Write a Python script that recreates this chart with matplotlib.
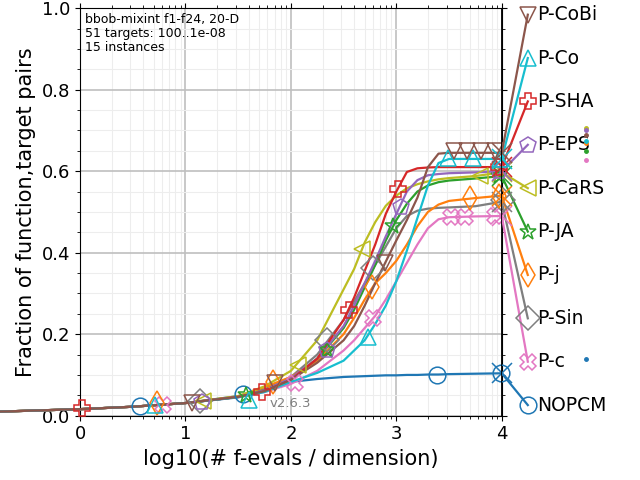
import matplotlib
matplotlib.use("Agg")
import matplotlib.pyplot as plt
import numpy as np
from matplotlib.ticker import FixedLocator, MultipleLocator

# ---------------------------------------------------------------------------
# Data
# ---------------------------------------------------------------------------

# legend order, top to bottom
ALGS = ["P-CoBi", "P-Co", "P-SHA", "P-EPS", "P-CaRS", "P-JA", "P-j", "P-Sin", "P-c", "NOPCM"]
COLORS = ["#8c564b", "#17becf", "#d62728", "#9467bd", "#bcbd22",
          "#2ca02c", "#ff7f0e", "#7f7f7f", "#e377c2", "#1f77b4"]
MARKERS = ["v", "^", "P", "p", "<", "*", "d", "D", "X", "o"]

# log10(# f-evals / dimension)
X_GRID = [-0.76, 0.0, 0.5, 1.0, 1.5, 1.75, 2.0, 2.25, 2.5, 2.6, 2.7,
          2.8, 2.9, 3.0, 3.1, 3.2, 3.3, 3.4, 3.5, 3.75, 4.0]

Y_COBI = [0.010, 0.016, 0.022, 0.031, 0.046, 0.060, 0.088, 0.130, 0.185, 0.220, 0.270,
          0.325, 0.378, 0.430, 0.480, 0.535, 0.610, 0.643, 0.645, 0.645, 0.645]
Y_CO = [0.010, 0.016, 0.022, 0.031, 0.045, 0.058, 0.083, 0.105, 0.135, 0.160, 0.185,
        0.225, 0.270, 0.330, 0.405, 0.485, 0.565, 0.620, 0.630, 0.630, 0.630]
Y_SHA = [0.010, 0.016, 0.022, 0.031, 0.046, 0.060, 0.088, 0.140, 0.235, 0.290, 0.355,
         0.420, 0.495, 0.550, 0.598, 0.607, 0.609, 0.610, 0.610, 0.610, 0.610]
Y_EPS = [0.010, 0.016, 0.022, 0.031, 0.046, 0.062, 0.092, 0.140, 0.220, 0.270, 0.325,
         0.380, 0.440, 0.495, 0.550, 0.578, 0.590, 0.593, 0.595, 0.597, 0.600]
Y_CARS = [0.010, 0.016, 0.022, 0.031, 0.048, 0.072, 0.110, 0.185, 0.310, 0.360, 0.425,
          0.475, 0.515, 0.540, 0.558, 0.568, 0.575, 0.580, 0.583, 0.588, 0.597]
Y_JA = [0.010, 0.016, 0.022, 0.031, 0.046, 0.062, 0.090, 0.140, 0.215, 0.260, 0.315,
        0.370, 0.430, 0.480, 0.520, 0.550, 0.565, 0.573, 0.577, 0.582, 0.588]
Y_J = [0.010, 0.016, 0.022, 0.031, 0.047, 0.070, 0.095, 0.135, 0.200, 0.240, 0.285,
       0.325, 0.350, 0.380, 0.420, 0.465, 0.500, 0.518, 0.527, 0.534, 0.540]
Y_SIN = [0.010, 0.016, 0.022, 0.031, 0.046, 0.064, 0.095, 0.150, 0.235, 0.280, 0.325,
         0.370, 0.415, 0.460, 0.490, 0.503, 0.508, 0.510, 0.511, 0.514, 0.525]
Y_C = [0.010, 0.016, 0.022, 0.031, 0.045, 0.058, 0.078, 0.110, 0.160, 0.185, 0.215,
       0.245, 0.285, 0.330, 0.375, 0.420, 0.460, 0.482, 0.487, 0.489, 0.490]
Y_NOPCM = [0.010, 0.016, 0.022, 0.031, 0.048, 0.065, 0.083, 0.090, 0.095, 0.096, 0.097,
           0.098, 0.099, 0.099, 0.100, 0.100, 0.101, 0.101, 0.102, 0.103, 0.104]

# marker positions along each curve
MK_COBI = [(1.06, 0.032), (1.85, 0.079), (2.89, 0.374), (3.55, 0.650),
           (3.67, 0.650), (3.80, 0.650), (3.94, 0.650)]
MK_CO = [(0.71, 0.026), (1.60, 0.038), (2.73, 0.194), (3.49, 0.632), (3.73, 0.632), (3.98, 0.630)]
MK_SHA = [(0.02, 0.018), (1.73, 0.058), (2.55, 0.260), (3.02, 0.556), (3.97, 0.610)]
MK_EPS = [(1.16, 0.034), (2.34, 0.161), (3.04, 0.513), (3.97, 0.600)]
MK_CARS = [(1.17, 0.036), (2.07, 0.124), (2.67, 0.410), (3.79, 0.587)]
MK_JA = [(1.57, 0.050), (2.34, 0.160), (2.97, 0.465), (3.97, 0.588)]
MK_J = [(0.73, 0.030), (1.83, 0.083), (2.77, 0.316), (3.70, 0.533), (3.97, 0.538)]
MK_SIN = [(1.14, 0.035), (2.34, 0.186), (2.78, 0.362), (4.01, 0.529)]
MK_C = [(0.79, 0.026), (2.04, 0.079), (2.78, 0.239), (3.52, 0.487), (3.65, 0.487), (3.94, 0.490)]
MK_NOPCM = [(0.57, 0.023), (1.55, 0.052), (3.39, 0.101), (3.99, 0.104)]

# small dots right of the legend (None = hidden behind others)
DOT_Y = [0.689, 0.674, None, 0.700, 0.707, 0.650, 0.670, None, 0.627, 0.139]

CURVES = [Y_COBI, Y_CO, Y_SHA, Y_EPS, Y_CARS, Y_JA, Y_J, Y_SIN, Y_C, Y_NOPCM]
MARKS = [MK_COBI, MK_CO, MK_SHA, MK_EPS, MK_CARS, MK_JA, MK_J, MK_SIN, MK_C, MK_NOPCM]

INFO = "bbob-mixint f1-f24, 20-D\n51 targets: 100..1e-08\n15 instances"
MAX_X = 4.0

# ---------------------------------------------------------------------------
# Plot
# ---------------------------------------------------------------------------

fig = plt.figure(figsize=(6.4, 4.8), dpi=100)
ax = fig.add_axes([0.125, 0.134, 0.659, 0.849])

ax.set_xlim(0, MAX_X)
ax.set_ylim(0, 1)

minor_x = [k + np.log10(m) for k in range(4) for m in range(2, 10)]
ax.xaxis.set_major_locator(FixedLocator([0, 1, 2, 3, 4]))
ax.xaxis.set_minor_locator(FixedLocator(minor_x))
ax.yaxis.set_major_locator(MultipleLocator(0.2))
ax.yaxis.set_minor_locator(MultipleLocator(0.05))
ax.grid(True, which="major", color="0.75", lw=1.2)
ax.grid(True, which="minor", color="0.93", lw=0.8)
ax.set_axisbelow(True)
ax.tick_params(which="both", top=True, right=True, labelsize=13)

n = len(ALGS)
legend_y = np.linspace(0.984, 0.026, n)
leg_x = 4.247

# draw bottom of the legend list first so the top ones end up on top
for i in reversed(range(n)):
    c = COLORS[i]
    ax.plot(X_GRID, CURVES[i], color=c, lw=1.6, clip_on=False, zorder=3)
    mx = [p[0] for p in MARKS[i]]
    my = [p[1] for p in MARKS[i]]
    ax.plot(mx, my, ls="none", marker=MARKERS[i], ms=12, mfc="none",
            mec=c, mew=1.1, clip_on=False, zorder=4)
    final = CURVES[i][-1]
    ax.plot([MAX_X], [final], marker="x", ms=15, color=c, mew=1.1,
            clip_on=False, zorder=4)
    # link to the legend entry
    ax.plot([MAX_X, leg_x], [final, legend_y[i]], color=c, lw=1.6,
            clip_on=False, zorder=3)
    ax.plot([leg_x], [legend_y[i]], marker=MARKERS[i], ms=12, mfc="none",
            mec=c, mew=1.1, clip_on=False, zorder=4)
    ax.text(leg_x + 0.09, legend_y[i], ALGS[i], fontsize=13.5,
            va="center", ha="left", clip_on=False)
    if DOT_Y[i] is not None:
        ax.plot([4.80], [DOT_Y[i]], marker=".", ms=5, color=c,
                clip_on=False, zorder=5)

ax.axvline(MAX_X, color="k", lw=2, zorder=5)

ax.text(0.012, 0.988, INFO, transform=ax.transAxes, fontsize=9,
        va="top", ha="left", linespacing=1.1)
ax.text(1.795, 0.03, "v2.6.3", color="0.5", fontsize=9.5, va="center", ha="left")

ax.set_xlabel("log10(# f-evals / dimension)", fontsize=15)
ax.set_ylabel("Fraction of function,target pairs", fontsize=15)

fig.savefig("out.png", dpi=100)
